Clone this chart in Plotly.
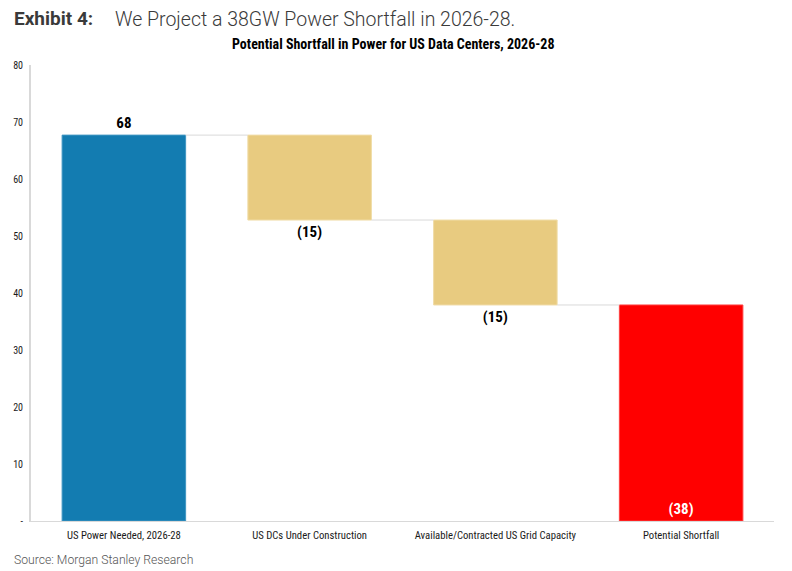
import plotly.graph_objects as go

categories = ["US Power Needed, 2026-28", "US DCs Under Construction",
              "Available/Contracted US Grid Capacity", "Potential Shortfall"]
changes = [67.7, -14.9, -14.9]          # first is the starting level, then the steps
tick_vals = [0, 10, 20, 30, 40, 50, 60, 70, 80]
tick_text = ["-", "10", "20", "30", "40", "50", "60", "70", "80"]

# running levels
levels = []
run = 0
for c in changes:
    run += c
    levels.append(run)
shortfall = levels[-1]

bases = [0, levels[0], levels[1], 0]
heights = [changes[0], changes[1], changes[2], shortfall]
labels = []
for i, h in enumerate(heights):
    v = round(abs(h))
    labels.append(f"{v}" if i == 0 else f"({v})")

colors = ["#137CB1", "#E8CB80", "#E8CB80", "#FF0000"]
edge = ["#3F95C2", "#F0DCA6", "#F0DCA6", "#FF4040"]
COND = "Liberation Sans Narrow, Roboto Condensed, Roboto, Arial Narrow, sans-serif"

fig = go.Figure()
fig.add_trace(go.Bar(
    x=categories, y=heights, base=bases, width=0.665,
    marker=dict(color=colors, line=dict(color=edge, width=1)),
    text=labels,
    textposition=["outside", "outside", "outside", "inside"],
    insidetextanchor="start",
    textangle=0,
    constraintext="none",
    cliponaxis=False,
    textfont=dict(family=COND, size=15, color=["#000000", "#000000", "#000000", "#FFFFFF"], weight="bold"),
    hoverinfo="skip",
))

# connectors
shapes = []
conn_levels = [levels[0], levels[1], levels[2]]
for i, lv in enumerate(conn_levels):
    shapes.append(dict(type="line", xref="x", yref="y",
                       x0=i + 0.3325, x1=i + 1 - 0.3325, y0=lv, y1=lv,
                       line=dict(color="#D9D9D9", width=1)))

fig.update_layout(
    width=784, height=563,
    margin=dict(l=23, r=18, t=57, b=50),
    plot_bgcolor="white", paper_bgcolor="white",
    showlegend=False,
    bargap=0.335,
    shapes=shapes,
    xaxis=dict(range=[-0.5, 3.5], showline=True, linecolor="#D9D9D9", linewidth=1,
               automargin=False,
               ticks="", tickfont=dict(family=COND, size=10.7, color="#1A1A1A"),
               ticklabelstandoff=4,
               showgrid=False, zeroline=False, fixedrange=True),
    yaxis=dict(range=[0, 80], tickvals=tick_vals, ticktext=tick_text, automargin=False,
               showline=True, linecolor="#D9D9D9", linewidth=2, showgrid=False,
               zeroline=False, ticks="", ticklen=0, ticklabelstandoff=4,
               tickfont=dict(family=COND, size=10, color="#1A1A1A")),
    annotations=[
        dict(text="<b>Exhibit 4:</b>", xref="paper", yref="paper", x=-0.026, y=1.0,
             xanchor="left", yanchor="bottom", yshift=33, showarrow=False,
             font=dict(family="Roboto", size=19, color="#3A3A3A")),
        dict(text="We Project a 38GW Power Shortfall in 2026-28.", xref="paper", yref="paper",
             x=0.110, y=1.0, xanchor="left", yanchor="bottom", yshift=32, showarrow=False,
             font=dict(family="Roboto", size=19.5, color="#3A3A3A", weight=300)),
        dict(text="<b>Potential Shortfall in Power for US Data Centers, 2026-28</b>",
             xref="paper", yref="paper", x=0.487, y=1.0, xanchor="center", yanchor="bottom",
             yshift=11, showarrow=False,
             font=dict(family=COND, size=14, color="#000000")),
        dict(text="Source: Morgan Stanley Research", xref="paper", yref="paper",
             x=-0.026, y=0, xanchor="left", yanchor="top", yshift=-30, showarrow=False,
             font=dict(family="Roboto", size=12.2, color="#555555", weight=300)),
    ],
)

fig.write_html("out.html")
